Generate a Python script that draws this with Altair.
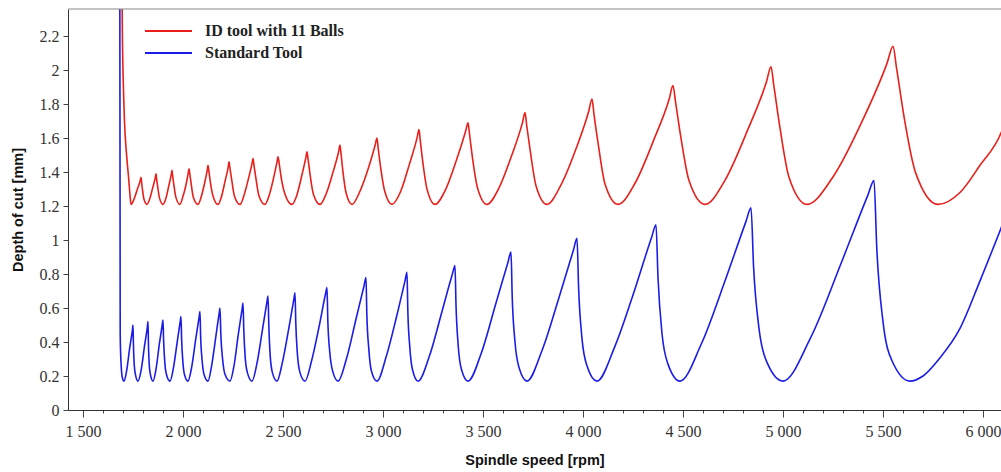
import altair as alt
import pandas as pd

series_names = ["ID tool with 11 Balls", "Standard Tool"]
series_colors = ["#e81f1a", "#1c1ce8"]

# ID tool with 11 Balls (red)
id_rpm = [1694, 1697, 1702, 1707, 1718, 1727, 1734, 1740,
          1755, 1772, 1786, 1790, 1792, 1797, 1805, 1820,
          1833, 1849, 1862, 1865, 1868, 1874, 1882, 1900,
          1913, 1929, 1942, 1945, 1948, 1955, 1965, 1985,
          1998, 2014, 2027, 2030, 2034, 2041, 2052, 2075,
          2090, 2107, 2121, 2125, 2129, 2137, 2150, 2175,
          2191, 2211, 2226, 2230, 2234, 2244, 2257, 2285,
          2304, 2327, 2345, 2350, 2355, 2365, 2380, 2410,
          2430, 2452, 2470, 2475, 2481, 2492, 2510, 2545,
          2568, 2594, 2615, 2620, 2625, 2636, 2652, 2685,
          2715, 2750, 2778, 2785, 2790, 2800, 2815, 2845,
          2882, 2926, 2961, 2970, 2976, 2989, 3008, 3045,
          3086, 3133, 3170, 3180, 3186, 3200, 3220, 3260,
          3310, 3367, 3413, 3425, 3433, 3449, 3472, 3520,
          3577, 3644, 3697, 3710, 3719, 3738, 3765, 3820,
          3888, 3966, 4029, 4045, 4055, 4078, 4110, 4175,
          4258, 4354, 4431, 4450, 4463, 4490, 4530, 4610,
          4709, 4824, 4917, 4940, 4954, 4985, 5030, 5120,
          5249, 5400, 5520, 5550, 5568, 5606, 5662, 5775,
          5885, 5985, 6090, 6100]
id_depth = [2.6, 2.2, 1.9, 1.71, 1.50, 1.38, 1.28, 1.21,
            1.24, 1.30, 1.35, 1.37, 1.35, 1.30, 1.24, 1.21,
            1.24, 1.31, 1.37, 1.39, 1.36, 1.31, 1.25, 1.21,
            1.24, 1.32, 1.39, 1.41, 1.38, 1.32, 1.25, 1.21,
            1.25, 1.32, 1.40, 1.42, 1.39, 1.33, 1.25, 1.21,
            1.25, 1.33, 1.41, 1.44, 1.41, 1.34, 1.26, 1.21,
            1.25, 1.35, 1.43, 1.46, 1.43, 1.35, 1.26, 1.21,
            1.26, 1.36, 1.45, 1.48, 1.44, 1.36, 1.26, 1.21,
            1.26, 1.36, 1.46, 1.49, 1.45, 1.36, 1.27, 1.21,
            1.26, 1.38, 1.49, 1.52, 1.48, 1.38, 1.27, 1.21,
            1.27, 1.40, 1.52, 1.56, 1.51, 1.40, 1.28, 1.21,
            1.28, 1.42, 1.56, 1.60, 1.54, 1.42, 1.29, 1.21,
            1.28, 1.45, 1.60, 1.65, 1.59, 1.45, 1.30, 1.21,
            1.29, 1.47, 1.64, 1.69, 1.62, 1.47, 1.31, 1.21,
            1.30, 1.50, 1.69, 1.75, 1.67, 1.51, 1.32, 1.21,
            1.32, 1.54, 1.76, 1.83, 1.74, 1.55, 1.33, 1.21,
            1.33, 1.59, 1.83, 1.91, 1.81, 1.60, 1.35, 1.21,
            1.35, 1.65, 1.93, 2.02, 1.91, 1.66, 1.37, 1.21,
            1.37, 1.71, 2.04, 2.14, 2.01, 1.72, 1.40, 1.21,
            1.28, 1.44, 1.63, 1.66]

# Standard Tool (blue)
std_rpm = [1684, 1686, 1690, 1697, 1705,
           1718, 1734, 1747, 1750, 1752, 1756, 1762, 1775,
           1790, 1808, 1822, 1825, 1827, 1831, 1837, 1850,
           1865, 1882, 1896, 1900, 1903, 1909, 1917, 1935,
           1951, 1971, 1986, 1990, 1993, 1999, 2007, 2025,
           2043, 2064, 2081, 2085, 2088, 2095, 2105, 2125,
           2143, 2164, 2181, 2185, 2189, 2198, 2210, 2235,
           2255, 2277, 2295, 2300, 2304, 2311, 2322, 2345,
           2369, 2397, 2419, 2425, 2429, 2436, 2447, 2470,
           2497, 2529, 2554, 2560, 2564, 2572, 2585, 2610,
           2643, 2682, 2712, 2720, 2724, 2734, 2748, 2775,
           2817, 2866, 2905, 2915, 2919, 2929, 2942, 2970,
           3015, 3068, 3110, 3120, 3124, 3134, 3147, 3175,
           3230, 3295, 3347, 3360, 3365, 3376, 3392, 3425,
           3490, 3565, 3625, 3640, 3646, 3660, 3680, 3720,
           3795, 3882, 3952, 3970, 3978, 3995, 4020, 4070,
           4158, 4262, 4344, 4365, 4375, 4395, 4425, 4485,
           4592, 4716, 4815, 4840, 4853, 4880, 4920, 5000,
           5136, 5296, 5423, 5455, 5469, 5500, 5545, 5635,
           5700, 5780, 5885, 5985, 6090, 6100]
std_depth = [2.6, 0.45, 0.28, 0.19, 0.17,
             0.23, 0.37, 0.47, 0.50, 0.39, 0.27, 0.21, 0.17,
             0.23, 0.38, 0.49, 0.52, 0.40, 0.27, 0.21, 0.17,
             0.24, 0.39, 0.50, 0.53, 0.41, 0.28, 0.21, 0.17,
             0.24, 0.40, 0.52, 0.55, 0.42, 0.29, 0.21, 0.17,
             0.25, 0.42, 0.55, 0.58, 0.44, 0.30, 0.21, 0.17,
             0.26, 0.43, 0.57, 0.60, 0.45, 0.30, 0.21, 0.17,
             0.26, 0.45, 0.59, 0.63, 0.47, 0.31, 0.22, 0.17,
             0.27, 0.47, 0.63, 0.67, 0.50, 0.32, 0.22, 0.17,
             0.28, 0.48, 0.65, 0.69, 0.51, 0.33, 0.22, 0.17,
             0.29, 0.50, 0.68, 0.72, 0.53, 0.34, 0.23, 0.17,
             0.30, 0.54, 0.73, 0.78, 0.57, 0.36, 0.23, 0.17,
             0.31, 0.55, 0.76, 0.81, 0.59, 0.37, 0.24, 0.17,
             0.31, 0.58, 0.80, 0.85, 0.62, 0.38, 0.24, 0.17,
             0.33, 0.63, 0.87, 0.93, 0.67, 0.40, 0.25, 0.17,
             0.35, 0.67, 0.94, 1.01, 0.72, 0.42, 0.26, 0.17,
             0.37, 0.72, 1.02, 1.09, 0.78, 0.45, 0.27, 0.17,
             0.39, 0.78, 1.11, 1.19, 0.84, 0.48, 0.28, 0.17,
             0.42, 0.88, 1.26, 1.35, 0.95, 0.52, 0.29, 0.17,
             0.20, 0.30, 0.48, 0.76, 1.07, 1.10]

x_tick_values = list(range(1500, 6001, 100))
y_tick_values = [0, 0.2, 0.4, 0.6, 0.8, 1.0, 1.2, 1.4, 1.6, 1.8, 2.0, 2.2]
x_domain = [1425, 6090]
y_domain = [0, 2.36]

W, H = 933, 401

df = pd.concat([
    pd.DataFrame({"rpm": id_rpm, "depth": id_depth, "series": series_names[0]}),
    pd.DataFrame({"rpm": std_rpm, "depth": std_depth, "series": series_names[1]}),
], ignore_index=True)

lines = alt.Chart(df).mark_line(strokeWidth=1.6, interpolate="monotone", clip=True).encode(
    x=alt.X("rpm:Q",
            scale=alt.Scale(domain=x_domain, nice=False, zero=False),
            axis=alt.Axis(values=x_tick_values,
                          labelExpr="datum.value % 500 === 0 ? replace(format(datum.value, ','), ',', ' ') : ''",
                          labelOverlap=False, labelFlush=False,
                          tickSize={"condition": {"test": "datum.value % 500 === 0", "value": 7}, "value": 3},
                          labelFont="Liberation Serif", labelFontSize=16, labelColor="#333",
                          labelPadding=6,
                          title="Spindle speed [rpm]", titleFont="Liberation Sans",
                          titleFontSize=14.5, titleFontWeight="bold", titleColor="#111",
                          titlePadding=14,
                          domainColor="#333", tickColor="#444", grid=False)),
    y=alt.Y("depth:Q",
            scale=alt.Scale(domain=y_domain, nice=False, zero=True),
            axis=alt.Axis(values=y_tick_values, format="~g",
                          labelFont="Liberation Serif", labelFontSize=16, labelColor="#333",
                          labelPadding=4, tickSize=5,
                          title="Depth of cut [mm]", titleFont="Liberation Sans",
                          titleFontSize=14.5, titleFontWeight="bold", titleColor="#111",
                          titlePadding=14,
                          domainColor="#333", tickColor="#444", grid=False)),
    color=alt.Color("series:N",
                    scale=alt.Scale(domain=series_names, range=series_colors),
                    legend=None),
    detail="series:N",
)

border = alt.Chart(pd.DataFrame({"a": [0]})).mark_rule(color="#888", strokeWidth=1).encode(
    x=alt.value(0), x2=alt.value(W), y=alt.value(0)
)

legend_layers = []
for i, name in enumerate(series_names):
    ld = pd.DataFrame({"series": [name]})
    legend_layers.append(
        alt.Chart(ld).mark_rule(color=series_colors[i], strokeWidth=2).encode(
            x=alt.value(77), x2=alt.value(124), y=alt.value(22 + 22 * i))
    )
    legend_layers.append(
        alt.Chart(ld).mark_text(align="left", baseline="middle", font="Liberation Serif",
                                fontSize=16, fontWeight="bold", color="#222").encode(
            x=alt.value(137), y=alt.value(22 + 22 * i), text="series:N")
    )

chart = alt.layer(lines, border, *legend_layers).properties(
    width=W, height=H,
    padding={"left": 68, "top": 9, "right": 0, "bottom": 62},
    autosize=alt.AutoSizeParams(type="none"),
    background="white",
).configure_view(stroke=None)

chart.save("out.html", embed_options={"renderer": "svg", "actions": False})
